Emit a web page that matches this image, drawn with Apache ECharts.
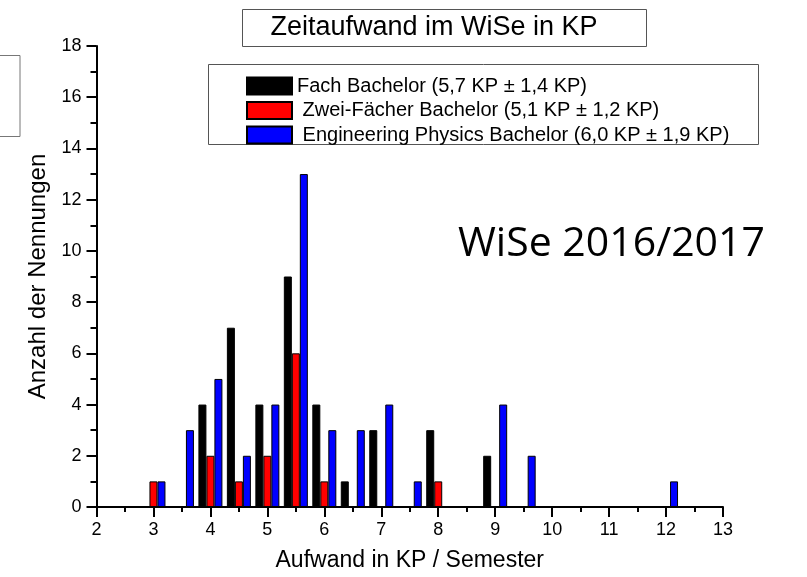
<!DOCTYPE html>
<html>
<head>
<meta charset="utf-8">
<title>Zeitaufwand im WiSe in KP</title>
<script src="https://cdn.jsdelivr.net/npm/echarts@6.0.0/dist/echarts.min.js"></script>
<style>
  html, body { margin: 0; padding: 0; background: #fff; }
  #chart { width: 807px; height: 577px; }
</style>
</head>
<body>
<div id="chart"></div>
<script>
  // Aufwand in KP / Semester (Klassenmitte)
  const positions = [3, 3.5, 4, 4.5, 5, 5.5, 6, 6.5, 7, 7.5, 8, 9, 9.5, 12]
  // Anzahl der Nennungen je Studiengang
  const fachBachelor = [0, 0, 4, 7, 4, 9, 4, 1, 3, 0, 3, 2, 0, 0]
  const zweiFaecher = [1, 0, 2, 1, 2, 6, 1, 0, 0, 0, 1, 0, 0, 0]
  const engPhysics = [1, 3, 5, 2, 4, 13, 3, 3, 4, 1, 0, 4, 2, 1]

  const seriesNames = [
    'Fach Bachelor (5,7 KP ± 1,4 KP)',
    ' Zwei-Fächer Bachelor (5,1 KP ± 1,2 KP)',
    ' Engineering Physics Bachelor (6,0 KP ± 1,9 KP)'
  ]
  const seriesColors = ['#000000', '#ff0000', '#0000ff']
  const xTicks = [2, 13]
  const yTicks = [0, 18]

  const font = "'Liberation Sans', Arial, sans-serif"

  function pairs (values) {
    // nur Klassen mit Nennungen zeichnen
    return positions.map(function (x, i) { return [x, values[i]] })
      .filter(function (p) { return p[1] > 0 })
  }

  const chart = echarts.init(document.getElementById('chart'))

  chart.setOption({
    backgroundColor: '#ffffff',
    animation: false,
    textStyle: { fontFamily: font, color: '#000' },
    grid: {
      left: 96.5,
      right: 84,
      top: 46,
      bottom: 69.5,
      containLabel: false
    },
    legend: {
      left: 241,
      top: 71,
      orient: 'vertical',
      icon: 'rect',
      itemWidth: 45,
      itemHeight: 17,
      itemGap: 4.5,
      selectedMode: false,
      textStyle: { fontFamily: font, fontSize: 20, color: '#000' },
      data: seriesNames
    },
    xAxis: {
      type: 'value',
      min: xTicks[0],
      max: xTicks[1],
      interval: 1,
      name: 'Aufwand in KP / Semester',
      nameLocation: 'middle',
      nameGap: 42,
      nameTextStyle: { fontFamily: font, fontSize: 23, color: '#000' },
      axisLine: { show: true, onZero: false, lineStyle: { color: '#000', width: 2 } },
      axisTick: { show: true, length: 10, lineStyle: { color: '#000', width: 2 } },
      minorTick: { show: true, splitNumber: 2, length: 5, lineStyle: { color: '#000', width: 2 } },
      axisLabel: { margin: 14, fontFamily: font, fontSize: 18, color: '#000' },
      splitLine: { show: false }
    },
    yAxis: {
      type: 'value',
      min: yTicks[0],
      max: yTicks[1],
      interval: 2,
      name: 'Anzahl der Nennungen',
      nameLocation: 'middle',
      nameGap: 42,
      nameTextStyle: { fontFamily: font, fontSize: 24, color: '#000' },
      axisLine: { show: true, lineStyle: { color: '#000', width: 2 } },
      axisTick: { show: true, length: 10, lineStyle: { color: '#000', width: 2 } },
      minorTick: { show: true, splitNumber: 2, length: 6, lineStyle: { color: '#000', width: 2 } },
      axisLabel: { margin: 15, fontFamily: font, fontSize: 18, color: '#000' },
      splitLine: { show: false }
    },
    series: [fachBachelor, zweiFaecher, engPhysics].map(function (values, i) {
      return {
        name: seriesNames[i],
        type: 'bar',
        barWidth: 8,
        barGap: '0%',
        data: pairs(values),
        itemStyle: {
          color: seriesColors[i],
          borderColor: '#000',
          borderWidth: 1
        }
      }
    }),
    graphic: [
      // abgeschnittener Rahmen am linken Rand
      {
        type: 'rect',
        shape: { x: -10, y: 55.5, width: 30, height: 81 },
        style: { fill: 'none', stroke: '#777', lineWidth: 1 }
      },
      // Titelrahmen
      {
        type: 'rect',
        shape: { x: 242.5, y: 9.5, width: 404, height: 37 },
        style: { fill: '#fff', stroke: '#555', lineWidth: 1 }
      },
      {
        type: 'text',
        x: 434,
        y: 28,
        style: {
          text: 'Zeitaufwand im WiSe in KP',
          font: '27px ' + font,
          fill: '#000',
          align: 'center',
          verticalAlign: 'middle'
        }
      },
      // Legendenrahmen
      {
        type: 'rect',
        z: -1,
        shape: { x: 208.5, y: 64.5, width: 550, height: 80 },
        style: { fill: '#fff', stroke: '#555', lineWidth: 1 }
      },
      {
        type: 'text',
        x: 458,
        y: 244,
        style: {
          text: 'WiSe 2016/2017',
          font: "41px 'Open Sans', 'Noto Sans', sans-serif",
          fill: '#000',
          align: 'left',
          verticalAlign: 'middle'
        }
      }
    ]
  })
</script>
</body>
</html>
